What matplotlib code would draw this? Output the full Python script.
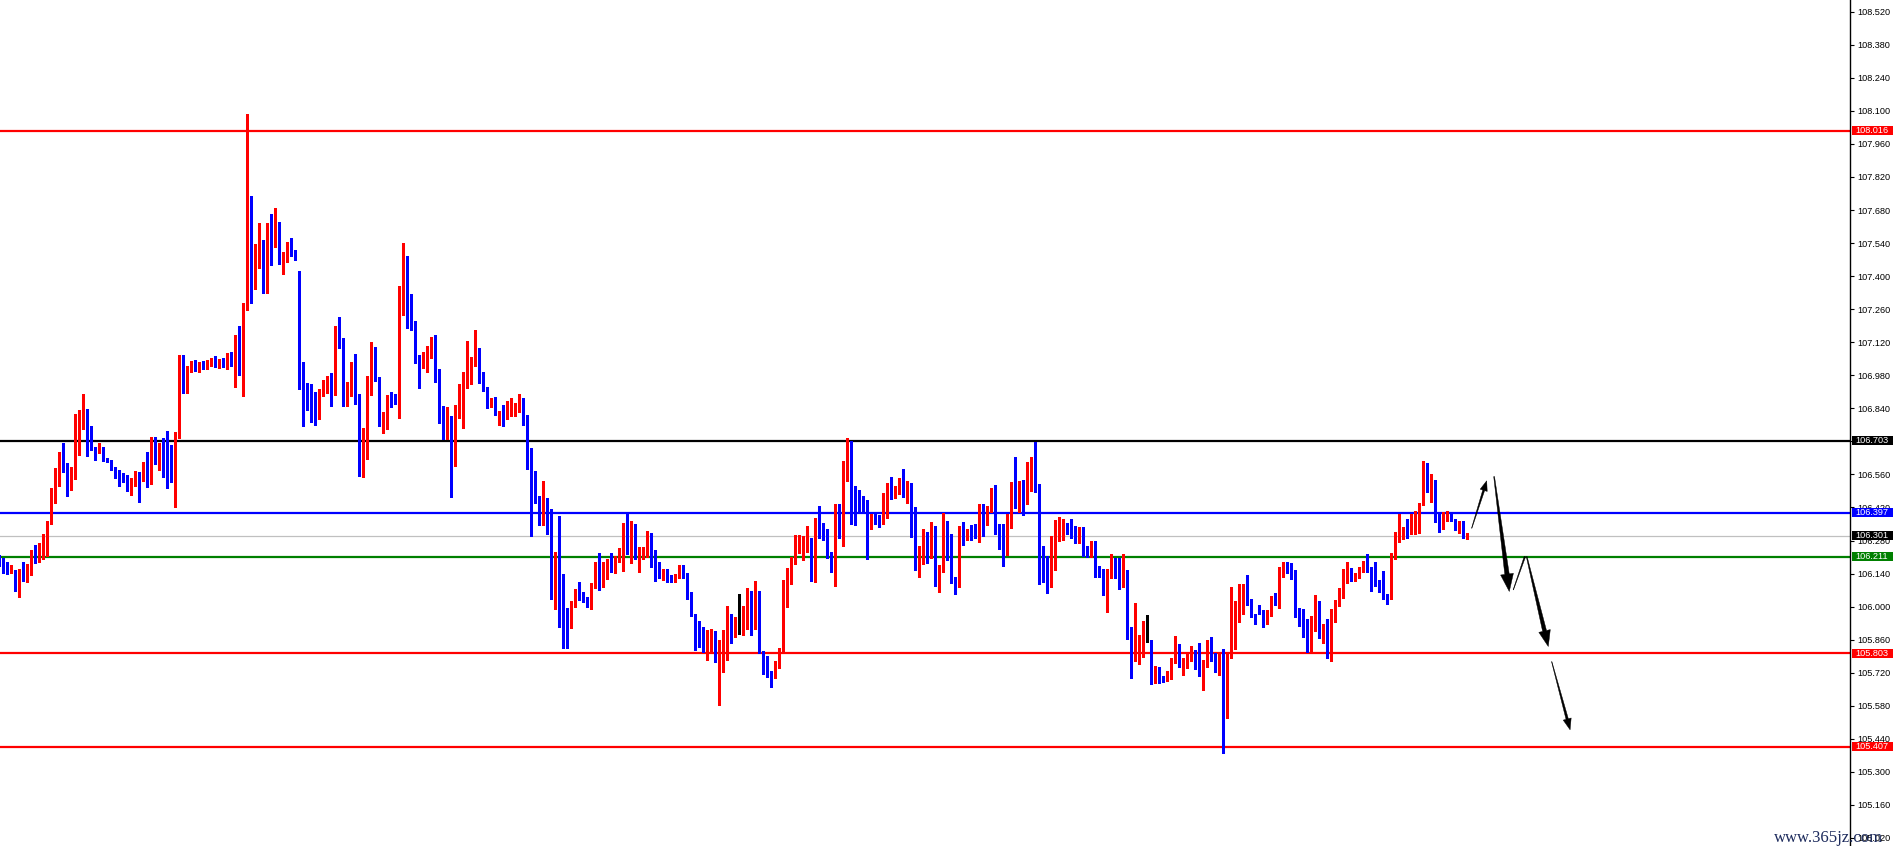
import numpy as np
import matplotlib
matplotlib.use("Agg")
import matplotlib.pyplot as plt
from matplotlib.patches import Polygon, Rectangle
from matplotlib.transforms import IdentityTransform, blended_transform_factory

# candle data (index -1 .. 366), prices
opens = [
    106.198, 106.186, 106.181, 106.148, 106.156, 106.074, 106.151, 106.132, 106.170, 106.230,
    106.212, 106.261, 106.271, 106.354, 106.466, 106.551, 106.621, 106.596, 106.534, 106.547,
    106.784, 106.794, 106.795, 106.681, 106.672, 106.652, 106.667, 106.627, 106.617, 106.588,
    106.568, 106.562, 106.530, 106.491, 106.516, 106.566, 106.534, 106.609, 106.528, 106.707,
    106.667, 106.685, 106.621, 106.566, 106.528, 106.733,
    107.045, 106.930, 107.010, 107.030, 107.010, 107.025, 107.015, 107.035, 107.045, 107.025,
    107.040, 107.020, 107.065, 107.030,
    107.138, 106.982, 107.261, 107.596, 107.350, 107.456, 107.541, 107.371, 107.604, 107.528,
    107.621, 107.464, 107.481, 107.532, 107.503, 107.422, 106.935, 106.914, 106.905, 106.888,
    106.816, 106.905, 106.914, 106.935, 106.897, 107.185, 107.121, 106.914, 106.931, 107.011,
    106.901, 106.566, 106.715, 106.952, 107.028, 106.973, 106.770, 106.787, 106.888, 106.871,
    106.863, 107.337, 107.452, 107.282, 107.210, 107.045, 107.037, 107.062, 107.092, 107.138,
    106.998, 106.850, 106.740, 106.774, 106.630, 106.821, 106.825, 106.969, 106.986, 107.053,
    107.083, 106.994, 106.931, 106.850, 106.867, 106.816, 106.825, 106.808, 106.821, 106.825,
    106.846, 106.880, 106.812, 106.655, 106.533, 106.469, 106.372, 106.405, 106.388, 106.041,
    106.172, 106.007, 105.948, 105.935, 106.012, 106.058, 106.041, 106.033, 106.003, 106.088,
    106.185, 106.122, 106.126, 106.194, 106.172, 106.198, 106.211, 106.291, 106.266, 106.346,
    106.206, 106.206, 106.240, 106.291, 106.177, 106.147, 106.126, 106.139, 106.126, 106.109,
    106.126, 106.172, 106.139, 106.058, 105.969, 105.918, 105.859, 105.825, 105.846, 105.876,
    105.774, 105.753, 105.880, 105.952, 105.889, 105.914, 105.914, 105.927, 105.982, 105.927,
    106.067, 105.812, 105.766, 105.711, 105.702, 105.740, 105.812, 106.020, 106.122, 106.202,
    106.244, 106.249, 106.253, 106.283, 106.139, 106.372, 106.355, 106.287, 106.223, 106.198,
    106.397, 106.329, 106.600, 106.643, 106.473, 106.460, 106.448, 106.422, 106.355, 106.380,
    106.376, 106.350, 106.456, 106.490, 106.482, 106.490, 106.537, 106.473, 106.507, 106.418,
    106.177, 106.215, 106.308, 106.228, 106.342, 106.109, 106.147, 106.232, 106.202, 106.122,
    106.096, 106.342, 106.300, 106.312, 106.312, 106.304, 106.422, 106.380, 106.410, 106.477,
    106.338, 106.304, 106.236, 106.380, 106.520, 106.448, 106.511, 106.439, 106.575, 106.609,
    106.520, 106.202, 106.189, 106.101, 106.291, 106.291, 106.304, 106.338, 106.325, 106.316,
    106.278, 106.325, 106.244, 106.215, 106.270, 106.155, 106.143, 106.067, 106.143, 106.185,
    106.177, 106.096, 106.122, 105.906, 105.817, 105.821, 105.829, 105.859, 105.859, 105.690,
    105.723, 105.698, 105.690, 105.694, 105.770, 105.838, 105.745, 105.753, 105.774, 105.796,
    105.779, 105.711, 105.753, 105.812, 105.783, 105.740, 105.808, 105.550, 105.783, 105.927,
    105.940, 106.058, 106.067, 106.028, 105.961, 105.999, 105.973, 105.931, 105.969, 106.033,
    106.007, 106.160, 106.172, 106.164, 106.126, 105.969, 105.952, 105.948, 105.851, 105.935,
    105.986, 105.884, 105.889, 105.796, 105.969, 106.020, 106.037, 106.117, 106.155, 106.126,
    106.130, 106.147, 106.160, 106.151, 106.147, 106.113, 106.109, 106.050, 106.037, 106.223,
    106.300, 106.321, 106.333, 106.312, 106.325, 106.372, 106.435, 106.566, 106.490, 106.528,
    106.384, 106.367, 106.380, 106.384, 106.372, 106.333, 106.346, 106.295,
]
highs = [
    106.219, 106.205, 106.191, 106.177, 106.156, 106.160, 106.189, 106.180, 106.240, 106.261,
    106.269, 106.308, 106.364, 106.502, 106.588, 106.655, 106.695, 106.609, 106.591, 106.815,
    106.833, 106.901, 106.837, 106.763, 106.678, 106.692, 106.678, 106.631, 106.621, 106.593,
    106.579, 106.565, 106.557, 106.545, 106.575, 106.572, 106.612, 106.657, 106.719, 106.719,
    106.692, 106.713, 106.743, 106.685, 106.740, 107.066,
    107.066, 107.020, 107.040, 107.045, 107.035, 107.040, 107.045, 107.055, 107.060, 107.050,
    107.055, 107.075, 107.080, 107.150,
    107.189, 107.287, 108.087, 107.740, 107.536, 107.625, 107.553, 107.625, 107.664, 107.689,
    107.630, 107.503, 107.545, 107.562, 107.511, 107.422, 107.037, 106.948, 106.943, 106.909,
    106.922, 106.960, 106.977, 106.990, 107.189, 107.227, 107.138, 106.952, 107.037, 107.070,
    106.901, 106.757, 106.977, 107.121, 107.100, 106.973, 106.825, 106.897, 106.909, 106.901,
    107.359, 107.541, 107.486, 107.325, 107.210, 107.066, 107.079, 107.104, 107.142, 107.151,
    107.007, 106.850, 106.846, 106.808, 106.854, 106.943, 106.994, 107.126, 107.058, 107.172,
    107.096, 106.994, 106.931, 106.884, 106.888, 106.829, 106.854, 106.871, 106.884, 106.863,
    106.901, 106.884, 106.812, 106.672, 106.575, 106.469, 106.533, 106.460, 106.414, 106.232,
    106.384, 106.139, 105.995, 106.024, 106.075, 106.105, 106.062, 106.041, 106.101, 106.189,
    106.228, 106.189, 106.202, 106.228, 106.215, 106.249, 106.355, 106.397, 106.363, 106.350,
    106.253, 106.253, 106.321, 106.312, 106.240, 106.189, 106.160, 106.160, 106.134, 106.139,
    106.177, 106.177, 106.143, 106.062, 105.969, 105.940, 105.914, 105.901, 105.906, 105.897,
    105.859, 105.901, 106.003, 105.969, 105.956, 106.054, 106.003, 106.079, 106.067, 106.109,
    106.067, 105.812, 105.791, 105.728, 105.770, 105.825, 106.113, 106.164, 106.211, 106.304,
    106.304, 106.300, 106.342, 106.291, 106.376, 106.427, 106.355, 106.329, 106.232, 106.435,
    106.435, 106.617, 106.715, 106.702, 106.511, 106.494, 106.469, 106.452, 106.393, 106.393,
    106.388, 106.482, 106.524, 106.549, 106.511, 106.545, 106.583, 106.532, 106.524, 106.422,
    106.257, 106.329, 106.316, 106.359, 106.342, 106.177, 106.397, 106.363, 106.308, 106.126,
    106.342, 106.359, 106.329, 106.346, 106.350, 106.435, 106.435, 106.427, 106.503, 106.515,
    106.350, 106.350, 106.393, 106.528, 106.634, 106.532, 106.537, 106.613, 106.634, 106.698,
    106.520, 106.257, 106.215, 106.300, 106.367, 106.380, 106.372, 106.355, 106.372, 106.342,
    106.338, 106.338, 106.257, 106.278, 106.278, 106.172, 106.160, 106.160, 106.223, 106.206,
    106.206, 106.223, 106.155, 105.914, 106.016, 105.880, 105.940, 105.965, 105.859, 105.749,
    105.745, 105.707, 105.728, 105.783, 105.876, 105.842, 105.783, 105.800, 105.834, 105.817,
    105.846, 105.774, 105.859, 105.872, 105.804, 105.808, 105.821, 105.804, 106.084, 106.024,
    106.096, 106.096, 106.134, 106.033, 105.969, 106.007, 105.986, 105.986, 106.045, 106.058,
    106.168, 106.189, 106.189, 106.185, 106.155, 105.995, 105.990, 105.948, 105.961, 106.050,
    106.024, 105.927, 105.948, 105.990, 106.028, 106.079, 106.160, 106.189, 106.164, 106.143,
    106.168, 106.194, 106.223, 106.168, 106.189, 106.113, 106.151, 106.054, 106.228, 106.316,
    106.393, 106.338, 106.372, 106.393, 106.405, 106.439, 106.617, 106.609, 106.562, 106.537,
    106.393, 106.401, 106.405, 106.393, 106.372, 106.363, 106.363, 106.312,
]
lows = [
    106.172, 106.142, 106.139, 106.144, 106.067, 106.042, 106.110, 106.106, 106.132, 106.184,
    106.191, 106.201, 106.216, 106.350, 106.438, 106.509, 106.572, 106.469, 106.494, 106.540,
    106.641, 106.752, 106.640, 106.664, 106.621, 106.652, 106.617, 106.613, 106.579, 106.545,
    106.511, 106.527, 106.490, 106.473, 106.511, 106.445, 106.530, 106.507, 106.520, 106.606,
    106.579, 106.547, 106.503, 106.528, 106.424, 106.715,
    106.905, 106.905, 106.995, 107.000, 106.995, 107.005, 107.005, 107.020, 107.015, 107.010,
    107.015, 107.005, 107.020, 106.930,
    106.982, 106.893, 107.257, 107.287, 107.346, 107.435, 107.329, 107.329, 107.447, 107.524,
    107.452, 107.409, 107.460, 107.486, 107.469, 106.922, 106.765, 106.833, 106.782, 106.770,
    106.795, 106.893, 106.905, 106.850, 106.897, 107.096, 106.850, 106.850, 106.893, 106.859,
    106.554, 106.549, 106.626, 106.897, 106.956, 106.765, 106.736, 106.753, 106.846, 106.859,
    106.799, 107.236, 107.181, 107.172, 107.032, 106.926, 107.011, 106.994, 107.053, 106.952,
    106.778, 106.710, 106.710, 106.465, 106.596, 106.799, 106.757, 106.926, 106.943, 107.020,
    106.948, 106.914, 106.842, 106.846, 106.812, 106.770, 106.765, 106.795, 106.808, 106.808,
    106.825, 106.770, 106.583, 106.300, 106.439, 106.346, 106.346, 106.308, 106.033, 105.990,
    105.914, 105.825, 105.825, 105.910, 105.999, 106.028, 106.020, 105.999, 105.990, 106.079,
    106.071, 106.083, 106.117, 106.147, 106.143, 106.189, 106.151, 106.223, 106.185, 106.202,
    106.147, 106.202, 106.211, 106.168, 106.109, 106.122, 106.113, 106.105, 106.105, 106.105,
    106.122, 106.122, 106.033, 105.961, 105.817, 105.829, 105.808, 105.774, 105.808, 105.766,
    105.584, 105.723, 105.774, 105.846, 105.872, 105.884, 105.880, 105.906, 105.880, 105.906,
    105.804, 105.715, 105.702, 105.660, 105.698, 105.740, 105.808, 105.999, 106.096, 106.181,
    106.228, 106.198, 106.232, 106.109, 106.105, 106.291, 106.283, 106.206, 106.147, 106.088,
    106.291, 106.257, 106.532, 106.350, 106.346, 106.401, 106.401, 106.202, 106.329, 106.350,
    106.338, 106.350, 106.376, 106.456, 106.460, 106.477, 106.465, 106.439, 106.295, 106.155,
    106.126, 106.181, 106.185, 106.206, 106.088, 106.062, 106.147, 106.198, 106.101, 106.054,
    106.083, 106.261, 106.283, 106.283, 106.291, 106.274, 106.300, 106.346, 106.401, 106.308,
    106.244, 106.172, 106.219, 106.333, 106.418, 106.401, 106.388, 106.435, 106.490, 106.486,
    106.096, 106.105, 106.058, 106.083, 106.155, 106.278, 106.283, 106.308, 106.291, 106.270,
    106.270, 106.215, 106.211, 106.211, 106.126, 106.126, 106.050, 105.978, 106.122, 106.122,
    106.075, 106.083, 105.863, 105.698, 105.770, 105.757, 105.787, 105.850, 105.673, 105.677,
    105.677, 105.681, 105.685, 105.694, 105.762, 105.745, 105.711, 105.740, 105.770, 105.736,
    105.707, 105.647, 105.745, 105.770, 105.723, 105.711, 105.380, 105.529, 105.783, 105.821,
    105.935, 105.969, 106.007, 105.956, 105.927, 105.969, 105.914, 105.927, 105.961, 106.007,
    105.995, 106.126, 106.143, 106.117, 105.956, 105.918, 105.872, 105.808, 105.808, 105.897,
    105.867, 105.846, 105.783, 105.770, 105.935, 106.003, 106.037, 106.101, 106.109, 106.109,
    106.122, 106.147, 106.147, 106.067, 106.088, 106.062, 106.033, 106.012, 106.033, 106.202,
    106.274, 106.287, 106.291, 106.308, 106.308, 106.312, 106.431, 106.486, 106.443, 106.359,
    106.316, 106.329, 106.363, 106.363, 106.325, 106.312, 106.291, 106.287,
]
closes = [
    106.185, 106.180, 106.148, 106.156, 106.071, 106.151, 106.127, 106.174, 106.230, 106.212,
    106.261, 106.275, 106.358, 106.469, 106.558, 106.621, 106.593, 106.534, 106.550, 106.787,
    106.791, 106.796, 106.678, 106.674, 106.652, 106.664, 106.621, 106.618, 106.583, 106.565,
    106.559, 106.530, 106.494, 106.520, 106.571, 106.537, 106.609, 106.530, 106.707, 106.672,
    106.685, 106.617, 106.558, 106.533, 106.733, 107.045,
    106.930, 107.010, 107.030, 107.010, 107.025, 107.015, 107.035, 107.045, 107.025, 107.040,
    107.020, 107.065, 107.030, 107.138,
    106.990, 107.265, 107.596, 107.350, 107.460, 107.541, 107.371, 107.604, 107.528, 107.621,
    107.460, 107.486, 107.532, 107.498, 107.477, 106.926, 106.909, 106.901, 106.884, 106.816,
    106.914, 106.922, 106.939, 106.901, 107.185, 107.117, 106.914, 106.935, 107.011, 106.897,
    106.566, 106.719, 106.956, 107.028, 106.969, 106.770, 106.791, 106.888, 106.867, 106.863,
    107.342, 107.452, 107.282, 107.206, 107.041, 107.037, 107.066, 107.096, 107.138, 106.994,
    106.846, 106.740, 106.774, 106.630, 106.825, 106.829, 106.969, 106.986, 107.053, 107.083,
    106.990, 106.926, 106.859, 106.867, 106.816, 106.825, 106.808, 106.829, 106.833, 106.850,
    106.880, 106.808, 106.651, 106.528, 106.465, 106.372, 106.405, 106.384, 106.041, 106.172,
    106.003, 105.944, 105.935, 106.016, 106.054, 106.037, 106.033, 106.003, 106.088, 106.185,
    106.122, 106.130, 106.194, 106.172, 106.202, 106.211, 106.287, 106.266, 106.346, 106.206,
    106.244, 106.240, 106.291, 106.177, 106.147, 106.126, 106.139, 106.122, 106.109, 106.126,
    106.168, 106.139, 106.058, 105.969, 105.914, 105.855, 105.825, 105.846, 105.876, 105.774,
    105.838, 105.884, 105.952, 105.889, 105.914, 105.914, 105.931, 105.982, 105.927, 106.067,
    105.804, 105.762, 105.707, 105.698, 105.753, 105.817, 106.024, 106.130, 106.202, 106.249,
    106.253, 106.257, 106.283, 106.143, 106.372, 106.350, 106.283, 106.219, 106.198, 106.397,
    106.333, 106.604, 106.643, 106.469, 106.460, 106.444, 106.418, 106.355, 106.380, 106.372,
    106.350, 106.456, 106.490, 106.486, 106.494, 106.537, 106.473, 106.507, 106.410, 106.177,
    106.219, 106.308, 106.228, 106.342, 106.109, 106.151, 106.232, 106.202, 106.113, 106.096,
    106.342, 106.300, 106.316, 106.308, 106.304, 106.422, 106.380, 106.410, 106.477, 106.333,
    106.300, 106.236, 106.380, 106.520, 106.448, 106.511, 106.439, 106.579, 106.613, 106.520,
    106.202, 106.185, 106.105, 106.295, 106.295, 106.304, 106.346, 106.321, 106.312, 106.278,
    106.325, 106.244, 106.215, 106.270, 106.155, 106.139, 106.062, 106.147, 106.185, 106.172,
    106.096, 106.122, 105.906, 105.817, 105.821, 105.833, 105.859, 105.859, 105.690, 105.723,
    105.694, 105.690, 105.698, 105.774, 105.838, 105.749, 105.757, 105.779, 105.796, 105.774,
    105.711, 105.757, 105.812, 105.779, 105.740, 105.783, 105.550, 105.783, 105.931, 105.948,
    106.058, 106.067, 106.020, 105.956, 105.940, 105.973, 105.931, 105.973, 106.033, 106.012,
    106.160, 106.172, 106.160, 106.122, 105.965, 105.948, 105.948, 105.851, 105.940, 105.986,
    105.889, 105.889, 105.796, 105.969, 106.020, 106.037, 106.117, 106.151, 106.130, 106.134,
    106.160, 106.160, 106.147, 106.147, 106.109, 106.109, 106.045, 106.037, 106.228, 106.304,
    106.325, 106.329, 106.312, 106.338, 106.376, 106.435, 106.566, 106.490, 106.528, 106.376,
    106.367, 106.384, 106.384, 106.372, 106.333, 106.346, 106.291, 106.301,
]

# horizontal levels drawn on the chart
level_prices = [108.016, 106.703, 106.397, 106.211, 105.803, 105.407]
level_colors = ["#ff0000", "#000000", "#0000ff", "#008000", "#ff0000", "#ff0000"]
bid_price = 106.301

# hand drawn forecast arrows: (start index, start price, end index, end price, width0, width1, head)
arrows = [
    (367.1, 106.332, 370.85, 106.533, 0.4, 2.0, True),
    (372.7, 106.551, 376.5, 106.064, 0.8, 4.5, True),
    (377.5, 106.071, 380.4, 106.212, 0.4, 1.4, False),
    (380.85, 106.212, 386.25, 105.831, 0.8, 4.0, True),
    (387.1, 105.767, 391.7, 105.478, 0.4, 2.4, True),
]

tick_values = np.round(np.arange(105.020, 108.5201, 0.14), 3)

W, H = 1897, 846
plot_w = 1850
fig = plt.figure(figsize=(W / 100, H / 100), dpi=100)
ax = fig.add_axes([0, 0, plot_w / W, 1])
ax.set_xlim(-0.825, 461.675)
ax.set_ylim(104.986, 108.5696)

o = np.array(opens)
h = np.array(highs)
l = np.array(lows)
c = np.array(closes)
x = np.arange(len(o)) - 1

cols = np.where(c > o, "#ff0000", np.where(c < o, "#0000ff", "#000000"))

# levels first, candles over them
for p, col in zip(level_prices, level_colors):
    ax.axhline(p, color=col, lw=1.6, zorder=1)
ax.axhline(bid_price, color="#c0c0c0", lw=0.9, zorder=1)

ax.vlines(x, l, h, colors=cols, lw=0.9, antialiased=False, zorder=3)
body_lo = np.minimum(o, c)
body_h = np.maximum(np.abs(c - o), 0.0045)
ax.bar(x, body_h, bottom=body_lo, width=0.82, color=cols, linewidth=0, zorder=3)

for sp in ["top", "left", "bottom"]:
    ax.spines[sp].set_visible(False)
ax.spines["right"].set_linewidth(1.0)
ax.set_xticks([])
ax.yaxis.tick_right()
ax.set_yticks(tick_values)
ax.set_yticklabels([f"{v:.3f}" for v in tick_values])
ax.tick_params(axis="y", direction="out", length=3, width=0.8, pad=2,
               labelsize=6.6, labelfontfamily="Liberation Sans")

# price tags on the scale
tr = blended_transform_factory(ax.transAxes, ax.transData)
box_h = 0.019
tags = list(zip(level_prices, level_colors)) + [(bid_price, "#000000")]
for p, col in tags:
    ax.add_patch(Rectangle((1852 / plot_w, p - box_h), 41 / plot_w, 2 * box_h,
                           transform=tr, facecolor=col, edgecolor="none",
                           clip_on=False, zorder=6))
    ax.text(1855.5 / plot_w, p, f"{p:.3f}", transform=tr, color="white",
            fontsize=6.6, family="Liberation Sans", va="center", ha="left",
            clip_on=False, zorder=7)


def taper_arrow(x0, y0, x1, y1, w0, w1, head):
    (px0, py0), (px1, py1) = ax.transData.transform([(x0, y0), (x1, y1)])
    dx, dy = px1 - px0, py1 - py0
    ln = np.hypot(dx, dy)
    ux, uy = dx / ln, dy / ln
    nx, ny = -uy, ux
    if head:
        hl, hw = 3.0 * w1 + 4, 2.2 * w1 + 3
        bx, by = px1 - ux * hl, py1 - uy * hl
    else:
        bx, by = px1, py1
    pts = [(px0 + nx * w0 / 2, py0 + ny * w0 / 2), (bx + nx * w1 / 2, by + ny * w1 / 2)]
    if head:
        pts += [(bx + nx * hw / 2, by + ny * hw / 2), (px1, py1),
                (bx - nx * hw / 2, by - ny * hw / 2)]
    pts += [(bx - nx * w1 / 2, by - ny * w1 / 2), (px0 - nx * w0 / 2, py0 - ny * w0 / 2)]
    fig.patches.append(Polygon(pts, closed=True, transform=IdentityTransform(),
                               facecolor="black", edgecolor="black", lw=0.3, zorder=8))


for a in arrows:
    taper_arrow(*a)

fig.text(1774 / W, 1 - 842 / H, "www.365jz.com", color="#1c2a5c", fontsize=12,
         family="Liberation Serif", ha="left", va="baseline")

fig.savefig("out.png", dpi=100)
